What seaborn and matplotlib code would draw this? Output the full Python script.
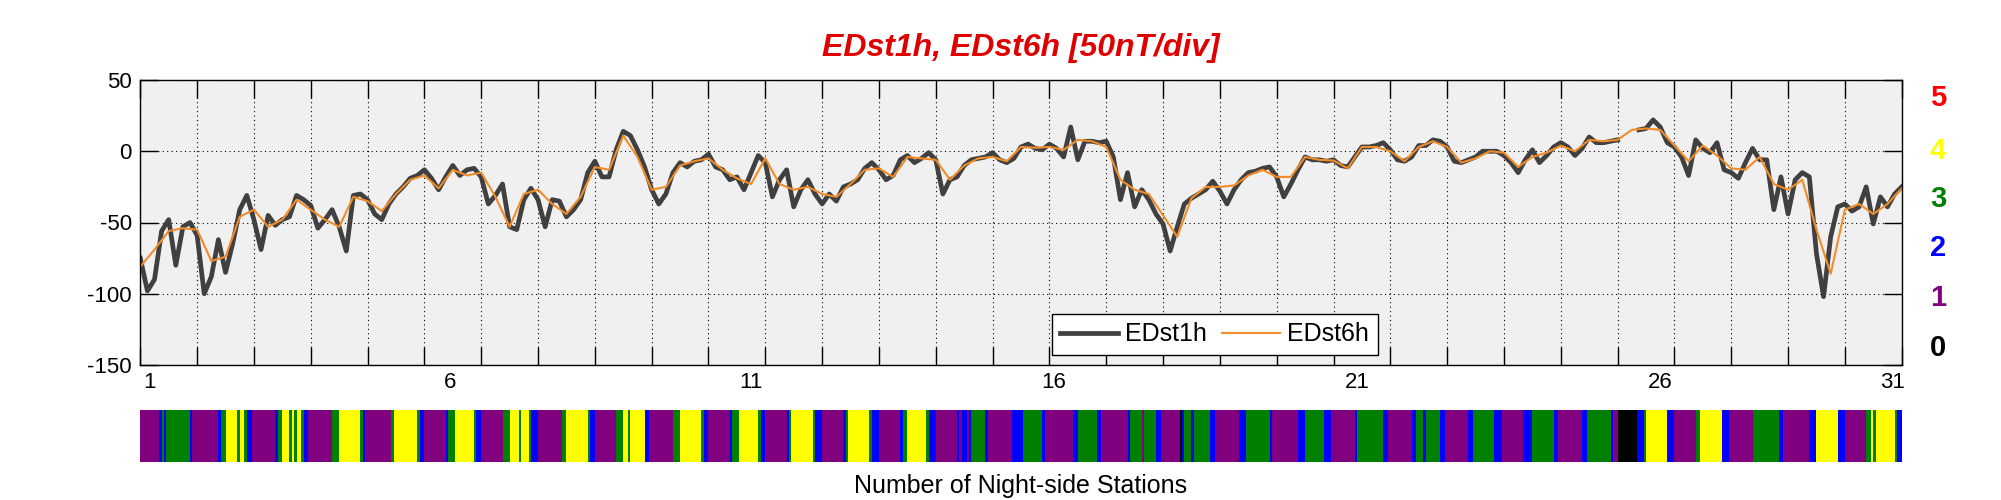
import numpy as np
import pandas as pd
import matplotlib
matplotlib.use("Agg")
import matplotlib.pyplot as plt
import matplotlib.transforms as mtrans
from matplotlib.colors import ListedColormap
from matplotlib.lines import Line2D
import seaborn as sns

# ---------------- data ----------------
# EDst1h, one value every 3 hours (hour 0 .. 744), nan = no data
edst1h = [
    -75, -98, -90, -56, -48, -80, -53, -50, -59, -100,
    -88, -62, -85, -65, -41, -31, -48, -69, -45, -52,
    -48, -46, -31, -34, -38, -54, -48, -41, -53, -70,
    -31, -30, -34, -44, -48, -37, -30, -25, -19, -17,
    -13, -19, -27, -18, -10, -17, -13, -12, -18, -37,
    -31, -23, -53, -55, -34, -26, -34, -53, -34, -35,
    -46, -41, -34, -15, -7, -18, -18, 1, 14, 11,
    1, -11, -27, -37, -30, -15, -8, -11, -7, -6,
    -2, -11, -13, -20, -18, -27, -15, -3, -8, -32,
    -20, -13, -39, -27, -20, -30, -37, -30, -35, -25,
    -23, -20, -12, -8, -13, -20, -17, -6, -3, -8,
    -5, -1, -6, -30, -20, -18, -10, -6, -5, -4,
    -1, -6, -8, -5, 3, 5, 2, 1, 5, 2,
    -4, 17, -6, 7, 7, 6, 7, -4, -34, -15,
    -39, -27, -34, -44, -51, -70, -53, -37, -33, -30,
    -27, -21, -28, -37, -27, -20, -15, -14, -12, -11,
    -18, -32, -23, -13, -4, -6, -6, -7, -6, -10,
    -11, -4, 3, 3, 4, 6, 1, -6, -7, -4,
    4, 4, 8, 7, 3, -7, -8, -6, -4, 0,
    0, 0, -3, -8, -15, -6, 1, -8, -3, 3,
    6, 3, -3, 2, 10, 6, 6, 7, 8, np.nan,
    np.nan, 15, 16, 22, 17, 6, 3, -4, -17, 8,
    2, -1, 6, -13, -15, -19, -8, 2, -6, -6,
    -41, -18, -44, -20, -15, -18, -72, -102, -60, -39,
    -37, -42, -39, -25, -51, -32, -39, -30, -25,
]
# EDst6h, one value every 6 hours
edst6h = [
    -81, -69, -56, -54, -55, -77, -74, -46, -41, -53,
    -48, -34, -41, -48, -53, -32, -35, -42, -30, -20,
    -17, -26, -13, -17, -15, -32, -53, -30, -27, -37,
    -44, -32, -11, -13, 11, -4, -27, -25, -10, -7,
    -5, -13, -19, -23, -5, -23, -27, -25, -30, -32,
    -23, -13, -12, -18, -4, -5, -6, -20, -10, -5,
    -4, -7, 3, 2.5, 3, 1, 8, 7, 3, -20,
    -27, -30, -45, -60, -33, -25, -25, -24, -17, -13,
    -18, -18, -4, -6, -6.5, -12, 3, 3, 0, -7,
    3, 7, 3, -8, -5, 0, -1, -11, -4, -1,
    4, 0, 8, 7, 8, 15, 16, 15, 4, -7,
    4, -3, -12, -13, -4, -23, -27, -20, -55, -86,
    -41, -37, -44, -37, -26,
]
# number of night-side stations: runs of (value, hours), day by day
station_runs = [
    (1, 8), (2, 1), (3, 1), (2, 1), (3, 10), (2, 1), (1, 2),
    (1, 9), (2, 1), (3, 2), (4, 5), (3, 1), (4, 2), (3, 1), (2, 2), (1, 1),
    (1, 9), (2, 1), (3, 2), (4, 3), (3, 1), (4, 1), (3, 1), (4, 2), (3, 1), (2, 2), (1, 1),
    (1, 9), (3, 3), (4, 9), (3, 1), (2, 1), (1, 1),
    (1, 10), (3, 1), (4, 10), (3, 1), (2, 2),
    (1, 9), (2, 1), (3, 3), (4, 8), (3, 1), (2, 2),
    (1, 9), (3, 3), (4, 4), (3, 1), (4, 3), (3, 1), (2, 3),
    (1, 10), (3, 2), (4, 9), (3, 1), (2, 2),
    (1, 9), (3, 3), (4, 2), (3, 1), (4, 6), (2, 2), (1, 1),
    (1, 9), (3, 3), (4, 9), (3, 1), (2, 2),
    (1, 9), (2, 1), (3, 3), (4, 8), (3, 1), (2, 2),
    (1, 9), (2, 1), (3, 1), (4, 9), (3, 1), (2, 3),
    (1, 9), (2, 1), (3, 1), (4, 9), (3, 1), (2, 3),
    (1, 9), (2, 1), (3, 2), (4, 8), (3, 1), (2, 3),
    (1, 9), (2, 1), (1, 1), (2, 2), (1, 1), (2, 1), (3, 6), (2, 1), (1, 2),
    (1, 8), (2, 5), (3, 8), (2, 1), (1, 2),
    (1, 10), (2, 2), (3, 8), (2, 2), (1, 2),
    (1, 9), (2, 1), (3, 5), (1, 1), (3, 5), (2, 2), (1, 1),
    (1, 7), (0, 1), (2, 1), (3, 3), (2, 1), (3, 7), (2, 2), (1, 2),
    (1, 8), (2, 3), (3, 10), (2, 1), (1, 2),
    (1, 9), (2, 3), (3, 8), (2, 3), (1, 1),
    (1, 9), (2, 1), (3, 11), (2, 2), (1, 1),
    (1, 9), (2, 2), (3, 3), (2, 1), (3, 6), (2, 2), (1, 1),
    (1, 9), (2, 2), (3, 9), (2, 3), (1, 1),
    (1, 8), (2, 4), (3, 9), (2, 2), (1, 1),
    (1, 9), (2, 2), (3, 10), (2, 1), (1, 2),
    (0, 8), (2, 3), (3, 1), (4, 9), (2, 3),
    (1, 9), (3, 2), (4, 9), (2, 3), (1, 1),
    (1, 9), (3, 11), (2, 2), (1, 2),
    (1, 9), (2, 3), (4, 9), (2, 3),
    (1, 9), (3, 2), (4, 1), (3, 1), (4, 8), (3, 1), (2, 2),
]
day_labels = ["1", "6", "11", "16", "21", "26", "31"]
day_label_hours = [3.7, 131, 258, 386, 514, 642, 740]
station_levels = ["5", "4", "3", "2", "1", "0"]
station_colors = ["#FF0000", "#FFFF00", "#008000", "#0000FF", "#800080", "#000000"]

# ---------------- frames ----------------
def frame(values, step):
    v = np.asarray(values, dtype=float)
    seg = np.cumsum(np.isnan(v))
    df = pd.DataFrame({"hour": np.arange(len(v)) * step, "val": v, "seg": seg})
    return df.dropna()

df1 = frame(edst1h, 3)
df6 = frame(edst6h, 6)
counts = np.concatenate([np.full(n, val) for val, n in station_runs])

# ---------------- figure ----------------
plt.rcParams["font.family"] = ["Liberation Sans", "DejaVu Sans"]
plt.rcParams["axes.unicode_minus"] = False

fig = plt.figure(figsize=(20.01, 5.0), dpi=100)
L, R = 140.3 / 2001, 1901.7 / 2001
ax = fig.add_axes([L, 1 - 365 / 500, R - L, 285 / 500])
ax.set_facecolor("#F0F0F0")

sns.lineplot(data=df1, x="hour", y="val", units="seg", estimator=None,
             color="#404040", lw=3.4, ax=ax, legend=False)
sns.lineplot(data=df6, x="hour", y="val", units="seg", estimator=None,
             color="#F28C28", lw=1.5, ax=ax, legend=False)

ax.set_xlim(0, 744)
ax.set_ylim(-150, 50)
ax.set_yticks([-150, -100, -50, 0, 50])
ax.set_xticks(np.arange(0, 745, 24))
ax.set_xticklabels([])
ax.set_xlabel("")
ax.set_ylabel("")
ax.grid(True, color="black", linestyle=(0, (1, 3)), linewidth=0.8)
ax.tick_params(direction="in", length=13, width=1, top=True, right=True,
               labelsize=16, pad=6, colors="black")
for s in ax.spines.values():
    s.set_color("black")
    s.set_linewidth(1)

trans = mtrans.blended_transform_factory(ax.transData, ax.transAxes)
for lab, h in zip(day_labels, day_label_hours):
    ax.text(h, -0.025, lab, transform=trans, ha="center", va="top", fontsize=16)

handles = [Line2D([], [], color="#404040", lw=3.4), Line2D([], [], color="#F28C28", lw=1.5)]
leg = ax.legend(handles, ["EDst1h", "EDst6h"], ncol=2, loc="lower left",
                bbox_to_anchor=(0.5174, 0.035), borderaxespad=0, fontsize=18,
                handlelength=2.3, handletextpad=0.3, columnspacing=0.6,
                borderpad=0.35, fancybox=False, framealpha=1, edgecolor="black")
leg.get_frame().set_linewidth(1)

# station strip
cax = fig.add_axes([L, 1 - 462 / 500, R - L, 52 / 500])
cmap = ListedColormap(["#000000", "#800080", "#0000FF", "#008000", "#FFFF00", "#FF0000"])
sns.heatmap(counts[None, :], ax=cax, cmap=cmap, vmin=-0.5, vmax=5.5, cbar=False,
            xticklabels=False, yticklabels=False)

fig.text((L + R) / 2, 1 - 48 / 500, "EDst1h, EDst6h [50nT/div]", color="#E00000",
         fontsize=23, fontweight="bold", fontstyle="italic", ha="center", va="center")
fig.text((L + R) / 2, 1 - 486 / 500, "Number of Night-side Stations", fontsize=18,
         ha="center", va="center")
ys = [98, 150.7, 199, 247.7, 298, 348]
for lab, c, y in zip(station_levels, station_colors, ys):
    fig.text(1938 / 2001, 1 - y / 500, lab, color=c, fontsize=21, fontweight="bold",
             ha="center", va="center")

fig.savefig("out.png", dpi=100)
